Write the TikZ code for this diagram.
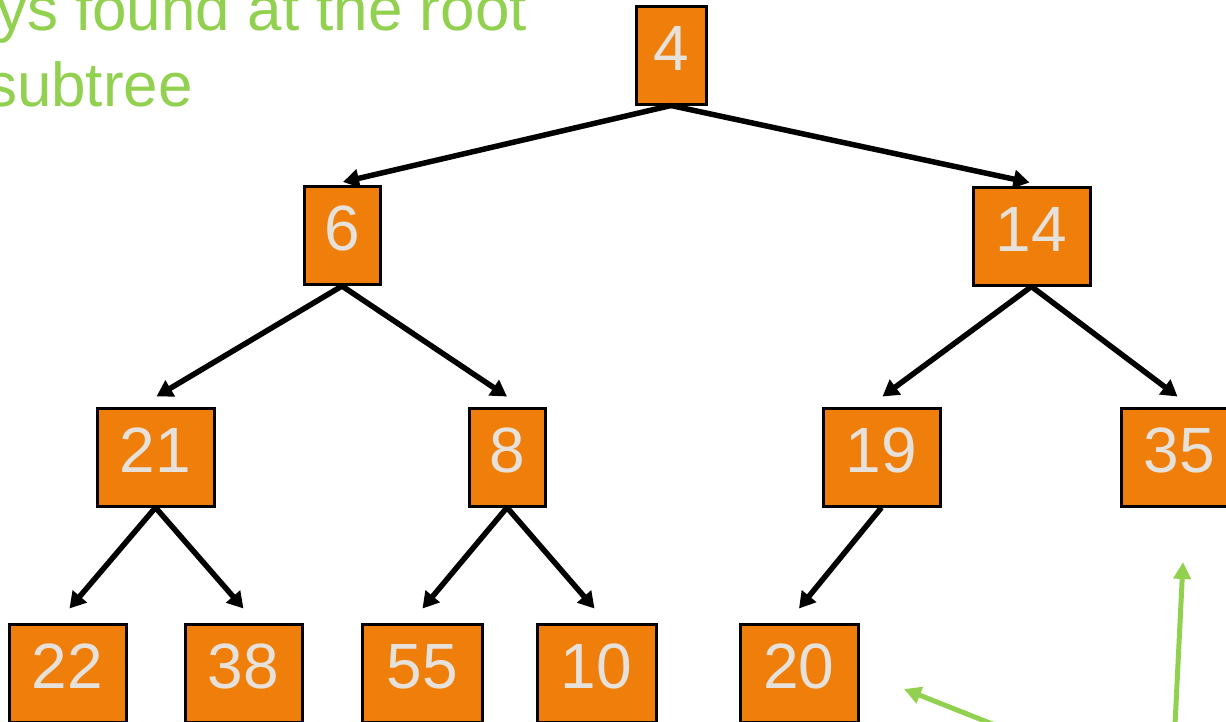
\documentclass[tikz,border=0pt]{standalone}
\usepackage{fontspec}
\setmainfont{Liberation Sans}
\usetikzlibrary{arrows.meta,calc}
\definecolor{boxorange}{HTML}{EF7F0A}
\definecolor{digitgrey}{HTML}{E6E1DA}
\definecolor{labelgreen}{HTML}{92D050}
\tikzset{
  keybox/.style={draw=black, line width=3pt, fill=boxorange, text=digitgrey,
    inner sep=0pt, minimum height=98pt, text height=47pt, text depth=17pt,
    font=\fontsize{64}{70}\selectfont},
  edge/.style={line width=5.5pt, -{Triangle[width=18pt,length=16pt]}},
  pointer/.style={draw=labelgreen, line width=5pt, -{Triangle[width=17pt,length=17pt]}},
  greentext/.style={text=labelgreen, font=\fontsize{62}{70}\selectfont, inner sep=0pt, anchor=base east}
}
\begin{document}
\begin{tikzpicture}[x=1pt, y=-1pt]
\useasboundingbox (0,0) rectangle (1226,721);
\clip (0,0) rectangle (1226,721);
% labels
\node[greentext] (l1) at (527,30) {ys found at the root};
\node[greentext] (l2) at (193,106) {subtree};
% nodes
\node[keybox, minimum width=70pt] (n4) at (671,55) {4};
\node[keybox, minimum width=76pt] (n6) at (342,235.5) {6};
\node[keybox, minimum width=117pt] (n14) at (1031.5,236) {14};
\node[keybox, minimum width=117pt] (n21) at (155.5,457) {21};
\node[keybox, minimum width=76pt] (n8) at (507,457) {8};
\node[keybox, minimum width=117pt] (n19) at (881.5,457) {19};
\node[keybox, minimum width=117pt] (n35) at (1179.5,457) {35};
\node[keybox, minimum width=117pt] (n22) at (67.5,673) {22};
\node[keybox, minimum width=117pt] (n38) at (243.5,673) {38};
\node[keybox, minimum width=120pt] (n55) at (422.5,673) {55};
\node[keybox, minimum width=119pt] (n10) at (596.5,673) {10};
\node[keybox, minimum width=118pt] (n20) at (799,673) {20};
% edges
\draw[edge] (n4.south) -- ($(n6.north)+(1,-3)$);
\draw[edge] (n4.south) -- ($(n14.north)+(-2,-3)$);
\draw[edge] (n6.south) -- ($(n21.north)+(1,-10)$);
\draw[edge] (n6.south) -- ($(n8.north)+(0,-10)$);
\draw[edge] (n14.south) -- ($(n19.north)+(1,-10)$);
\draw[edge] (n14.south) -- ($(n35.north)+(-2,-10)$);
\draw[edge] (n21.south) -- ($(n22.north)+(2,-14)$);
\draw[edge] (n21.south) -- ($(n38.north)+(0,-14)$);
\draw[edge] (n8.south) -- ($(n55.north)+(0,-14)$);
\draw[edge] (n8.south) -- ($(n10.north)+(-2,-14)$);
\draw[edge] (n19.south) -- ($(n20.north)+(0,-14)$);
% green pointers
\coordinate (s1) at (1010,731);
\coordinate (t1) at (904,689);
\coordinate (s2) at (1174.5,735);
\coordinate (t2) at (1183,562);
\draw[pointer] (s1) -- (t1);
\draw[pointer] (s2) -- (t2);
\end{tikzpicture}
\end{document}
